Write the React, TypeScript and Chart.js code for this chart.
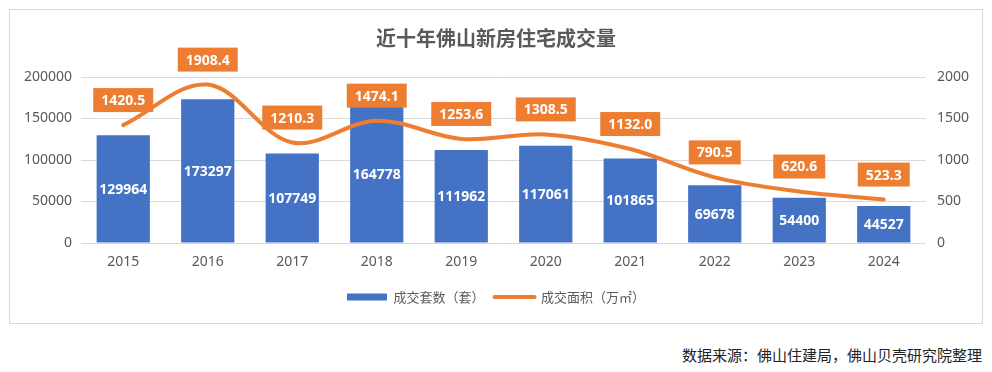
import React, { useEffect, useRef } from 'react';
import { Chart, registerables } from 'chart.js';

Chart.register(...registerables);

const FONT = "'Noto Sans', 'Noto Sans CJK SC', sans-serif";
const CJK = "'Noto Sans CJK SC', 'Noto Sans', sans-serif";

const titleText = '近十年佛山新房住宅成交量';
const sourceText = '数据来源：佛山住建局，佛山贝壳研究院整理';
const years = ['2015', '2016', '2017', '2018', '2019', '2020', '2021', '2022', '2023', '2024'];
const unitsSold = [129964, 173297, 107749, 164778, 111962, 117061, 101865, 69678, 54400, 44527];
const areaSold = [1420.5, 1908.4, 1210.3, 1474.1, 1253.6, 1308.5, 1132.0, 790.5, 620.6, 523.3];
const seriesNames = ['成交套数（套）', '成交面积（万㎡）'];
const leftTicks = [0, 50000, 100000, 150000, 200000];
const rightTicks = [0, 500, 1000, 1500, 2000];

const BLUE = '#4472C4';
const ORANGE = '#ED7D31';
const GRAY = '#595959';

const labelPlugin = {
  id: 'valueLabels',
  afterDatasetsDraw(chart: any) {
    const ctx = chart.ctx;
    ctx.save();
    ctx.font = `bold 14px ${FONT}`;
    ctx.textAlign = 'center';
    ctx.textBaseline = 'middle';
    const barMeta = chart.getDatasetMeta(0);
    barMeta.data.forEach((el: any, i: number) => {
      const { x, y, base } = el.getProps(['x', 'y', 'base'], true);
      ctx.fillStyle = '#FFFFFF';
      ctx.fillText(String(unitsSold[i]), x, (y + base) / 2 + 1);
    });
    const lineMeta = chart.getDatasetMeta(1);
    lineMeta.data.forEach((el: any, i: number) => {
      const { x, y } = el.getProps(['x', 'y'], true);
      const text = areaSold[i].toFixed(1);
      const w = ctx.measureText(text).width + 16;
      const h = 24;
      const cy = y - 25;
      ctx.fillStyle = ORANGE;
      ctx.fillRect(x - w / 2, cy - h / 2, w, h);
      ctx.fillStyle = '#FFFFFF';
      ctx.fillText(text, x, cy + 1);
    });
    ctx.restore();
  },
};

export default function App() {
  const ref = useRef<HTMLCanvasElement>(null);

  useEffect(() => {
    if (!ref.current) return;
    const chart = new Chart(ref.current, {
      type: 'bar',
      data: {
        labels: years,
        datasets: [
          {
            type: 'bar',
            label: seriesNames[0],
            data: unitsSold,
            backgroundColor: BLUE,
            borderWidth: 0,
            yAxisID: 'y',
            order: 1,
            barPercentage: 0.63,
            categoryPercentage: 1,
          },
          {
            type: 'line',
            label: seriesNames[1],
            data: areaSold,
            borderColor: ORANGE,
            backgroundColor: ORANGE,
            borderWidth: 4,
            borderCapStyle: 'round',
            borderJoinStyle: 'round',
            pointRadius: 0,
            tension: 0.35,
            yAxisID: 'y1',
            order: 0,
          } as any,
        ],
      },
      options: {
        animation: false,
        responsive: false,
        maintainAspectRatio: false,
        layout: { padding: { left: 0, right: 0, top: 0, bottom: 9.5 } },
        plugins: {
          tooltip: { enabled: false },
          title: {
            display: true,
            text: titleText,
            color: GRAY,
            font: { family: CJK, size: 20, weight: 'bold' },
            padding: { top: 16, bottom: 27 },
          },
          legend: {
            display: true,
            position: 'bottom',
            labels: {
              color: GRAY,
              font: { family: CJK, size: 13 },
              usePointStyle: true,
              pointStyleWidth: 40,
              boxWidth: 40,
              boxHeight: 7,
              padding: 10,
              generateLabels: () => [
                {
                  text: seriesNames[0],
                  fillStyle: BLUE,
                  strokeStyle: BLUE,
                  lineWidth: 0,
                  pointStyle: 'rect',
                  datasetIndex: 0,
                  fontColor: GRAY,
                },
                {
                  text: seriesNames[1],
                  fillStyle: ORANGE,
                  strokeStyle: ORANGE,
                  lineWidth: 4,
                  lineCap: 'round',
                  pointStyle: 'line',
                  datasetIndex: 1,
                  fontColor: GRAY,
                },
              ] as any,
            },
          },
        },
        scales: {
          x: {
            grid: { display: false, drawTicks: false },
            border: { display: false },
            ticks: { color: GRAY, font: { family: FONT, size: 14 }, padding: 11 },
            afterFit: (s: any) => {
              s.height = 37.5;
            },
          },
          y: {
            position: 'left',
            min: leftTicks[0],
            max: leftTicks[leftTicks.length - 1],
            afterBuildTicks: (s: any) => {
              s.ticks = leftTicks.map((v) => ({ value: v }));
            },
            grid: { color: '#D9D9D9', drawTicks: false, lineWidth: 1 },
            border: { display: false },
            ticks: {
              color: GRAY,
              font: { family: FONT, size: 14 },
              padding: 9,
              callback: (v: any) => String(v),
            },
            afterFit: (s: any) => {
              s.width = 71;
            },
          },
          y1: {
            position: 'right',
            min: rightTicks[0],
            max: rightTicks[rightTicks.length - 1],
            afterBuildTicks: (s: any) => {
              s.ticks = rightTicks.map((v) => ({ value: v }));
            },
            grid: { display: false, drawTicks: false },
            border: { display: false },
            ticks: {
              color: GRAY,
              font: { family: FONT, size: 14 },
              padding: 11,
              callback: (v: any) => String(v),
            },
            afterFit: (s: any) => {
              s.width = 56;
            },
          },
        },
      } as any,
      plugins: [labelPlugin],
    });
    return () => chart.destroy();
  }, []);

  return (
    <div style={{ position: 'absolute', left: 0, top: 0, width: 992, height: 372, background: '#fff' }}>
      <div
        style={{
          position: 'absolute',
          left: 9,
          top: 9,
          width: 972,
          height: 313,
          border: '1px solid #D9D9D9',
        }}
      >
        <canvas ref={ref} width={972} height={313} style={{ display: 'block' }} />
      </div>
      <div
        style={{
          position: 'absolute',
          right: 10,
          top: 344,
          fontFamily: CJK,
          fontSize: 15,
          lineHeight: '22px',
          color: '#222',
          whiteSpace: 'nowrap',
        }}
      >
        {sourceText}
      </div>
    </div>
  );
}
